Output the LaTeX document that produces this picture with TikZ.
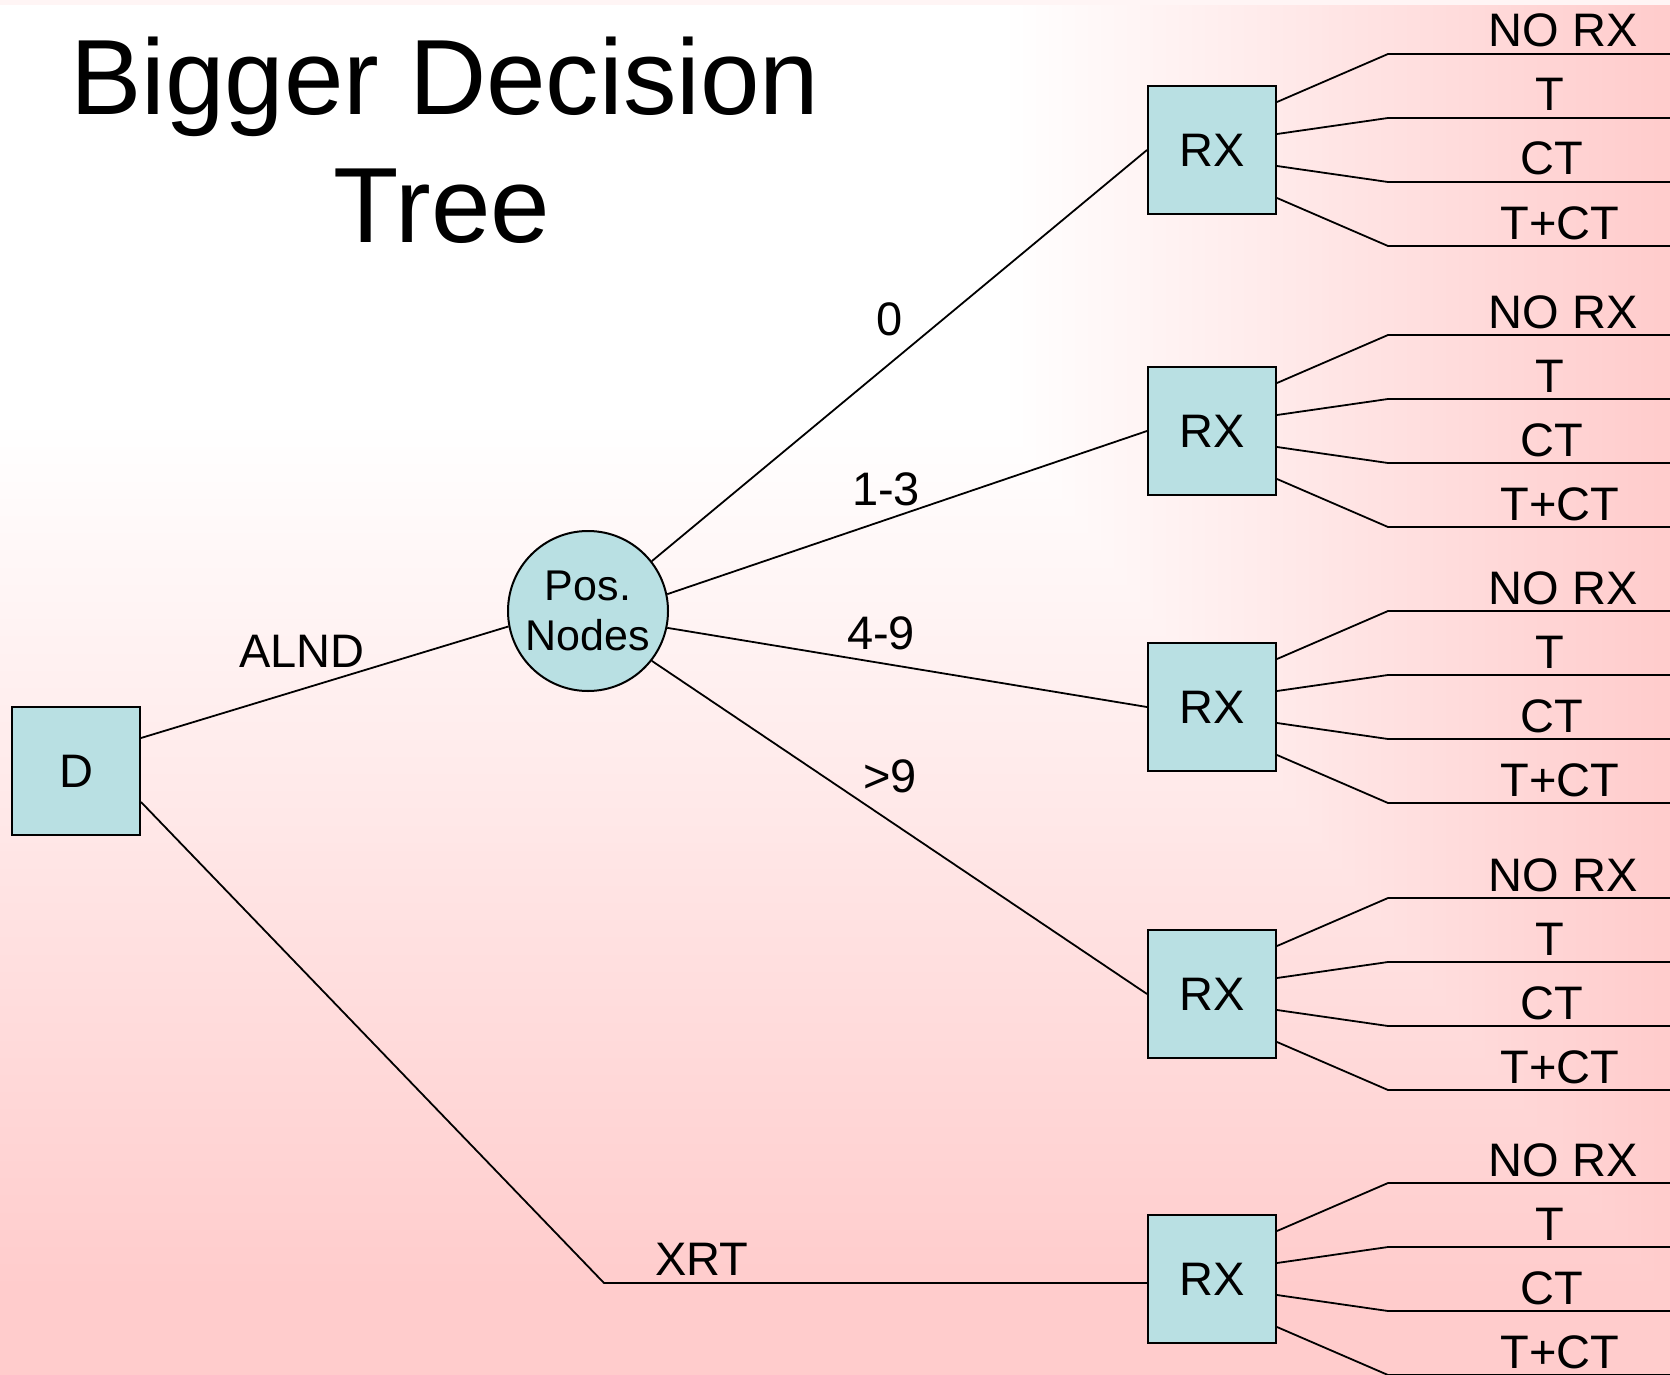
\documentclass[tikz,border=0pt]{standalone}
\usepackage{fontspec}
\setmainfont{Liberation Sans}
\usetikzlibrary{calc}
\definecolor{bgpink}{RGB}{255,204,204}
\definecolor{boxfill}{RGB}{185,224,227}
\begin{document}
\begin{tikzpicture}[x=1pt,y=-1pt,
  box/.style={draw=black, line width=2pt, fill=boxfill, minimum width=128pt,
    minimum height=128pt, inner sep=0pt, font=\fontsize{47}{50}\selectfont},
  chance/.style={circle, draw=black, line width=2pt, fill=boxfill, minimum size=160pt,
    inner sep=0pt, align=center, font=\fontsize{43}{50}\selectfont},
  edge/.style={line width=1.8pt, black, line join=round},
  lbl/.style={font=\fontsize{47}{50}\selectfont, inner sep=0pt, anchor=base},
  title/.style={font=\fontsize{107}{127}\selectfont, inner sep=0pt, anchor=base},
]
\useasboundingbox (0,0) rectangle (1670,1375);

% corner gradient: white in the upper left, pink towards the right and bottom
\fill[bgpink] (0,0) rectangle (1670,1375);
\foreach \i in {0,...,100}{
  \pgfmathsetmacro\c{1-\i/100}
  \pgfmathsetmacro\p{100*\c}
  \fill[bgpink!\p!white] (0,0) rectangle ({1010+650*\c},{430+860*\c});
}
\fill[bgpink!20!white] (0,0) rectangle (1670,5);

% title
\node[title] (t1) at (445,115) {Bigger Decision};
\node[title] (t2) at (442,242) {Tree};

% decision and chance nodes
\node[box] (D) at (76,771) {D};
\node[chance] (P) at (588,611) {Pos.\\Nodes};
\node[box] (R1) at (1212,150) {RX};
\node[box] (R2) at (1212,431) {RX};
\node[box] (R3) at (1212,707) {RX};
\node[box] (R4) at (1212,994) {RX};
\node[box] (R5) at (1212,1279) {RX};

% main branches
\coordinate (XC) at (604,1283);
\draw[edge] ($(D.east)+(0,-33)$) -- (P.191);
\draw[edge] ($(D.east)+(0,31)$) -- (XC) -- ($(R5.west)+(0,4)$);
\draw[edge] (P.38) -- (R1.west);
\draw[edge] (P.12) -- (R2.west);
\draw[edge] (P.-12) -- (R3.west);
\draw[edge] (P.-38) -- (R4.west);

\node[lbl] (lalnd) at (302,667) {ALND};
\node[lbl] (lxrt) at (702,1275) {XRT};
\node[lbl] (l0) at (890,335) {0};
\node[lbl] (l13) at (886,505) {1-3};
\node[lbl] (l49) at (881,649) {4-9};
\node[lbl] (l9) at (890,792) {>9};

% treatment branches of every RX node
\foreach \k/\yc in {1/150,2/431,3/707,4/994,5/1279}{
  \foreach \j/\dy/\ey/\lx/\txt in {a/-48/-96/1563/NO RX, b/-16/-32/1550/T,
                                   c/16/32/1552/CT, d/48/96/1560/T+CT}{
    \coordinate (K\k\j) at (1388,\yc+\ey);
    \coordinate (E\k\j) at (1672,\yc+\ey);
    \draw[edge] ($(R\k.east)+(0,\dy)$) -- (K\k\j) -- (E\k\j);
    \node[lbl] (L\k\j) at (\lx,\yc+\ey-7) {\txt};
  }
}
\end{tikzpicture}
\end{document}
